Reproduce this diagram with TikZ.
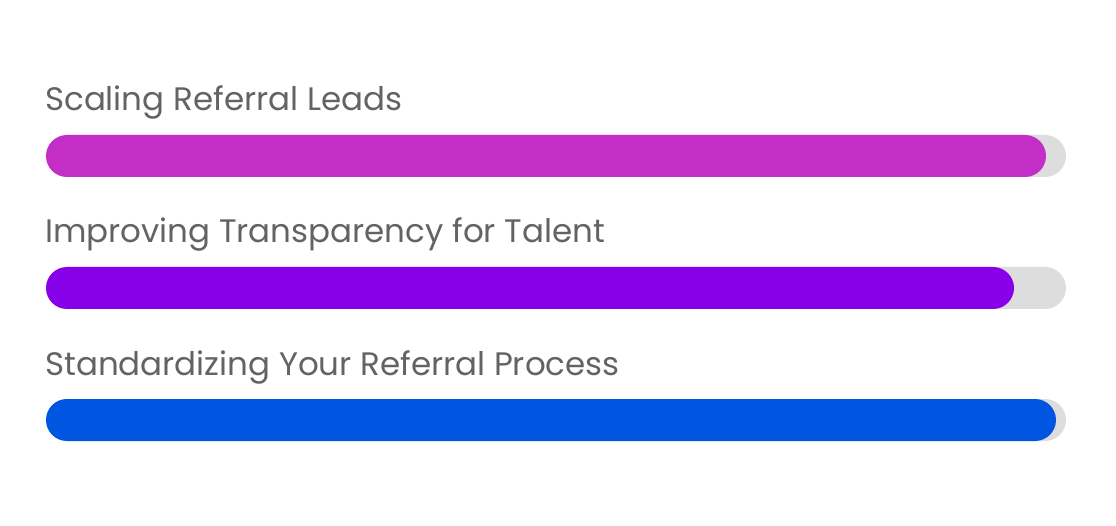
\documentclass[tikz,border=0pt]{standalone}
\usepackage{fontspec}
\setmainfont{Poppins}
\definecolor{txtgray}{HTML}{636363}
\definecolor{trackgray}{HTML}{DDDDDD}
\definecolor{barmagenta}{HTML}{C32FC6}
\definecolor{barpurple}{HTML}{8700E8}
\definecolor{barblue}{HTML}{0056E0}
\tikzset{
  label/.style={anchor=base west,inner sep=0pt,text=txtgray,font=\fontsize{32.5}{38}\selectfont},
  bar/.style={rounded corners=21pt}
}
\begin{document}
\begin{tikzpicture}[x=1pt,y=-1pt]
        \useasboundingbox (0,0) rectangle (1116,526);

        \node [label](l1)at(45,111){Scaling Referral Leads};
        \node [label](l2)at(45,243){Improving Transparency for Talent};
        \node [label](l3)at(45,375){Standardizing Your Referral Process};

        \fill [bar,trackgray] (46,135) rectangle (1066,177);
        \fill [bar,barmagenta] (46,135) rectangle (1046,177);
        \fill [bar,trackgray] (46,267) rectangle (1066,309);
        \fill [bar,barpurple] (46,267) rectangle (1014,309);
        \fill [bar,trackgray] (46,399) rectangle (1066,441);
        \fill [bar,barblue] (46,399) rectangle (1056,441);
    \end{tikzpicture}
\end{document}
